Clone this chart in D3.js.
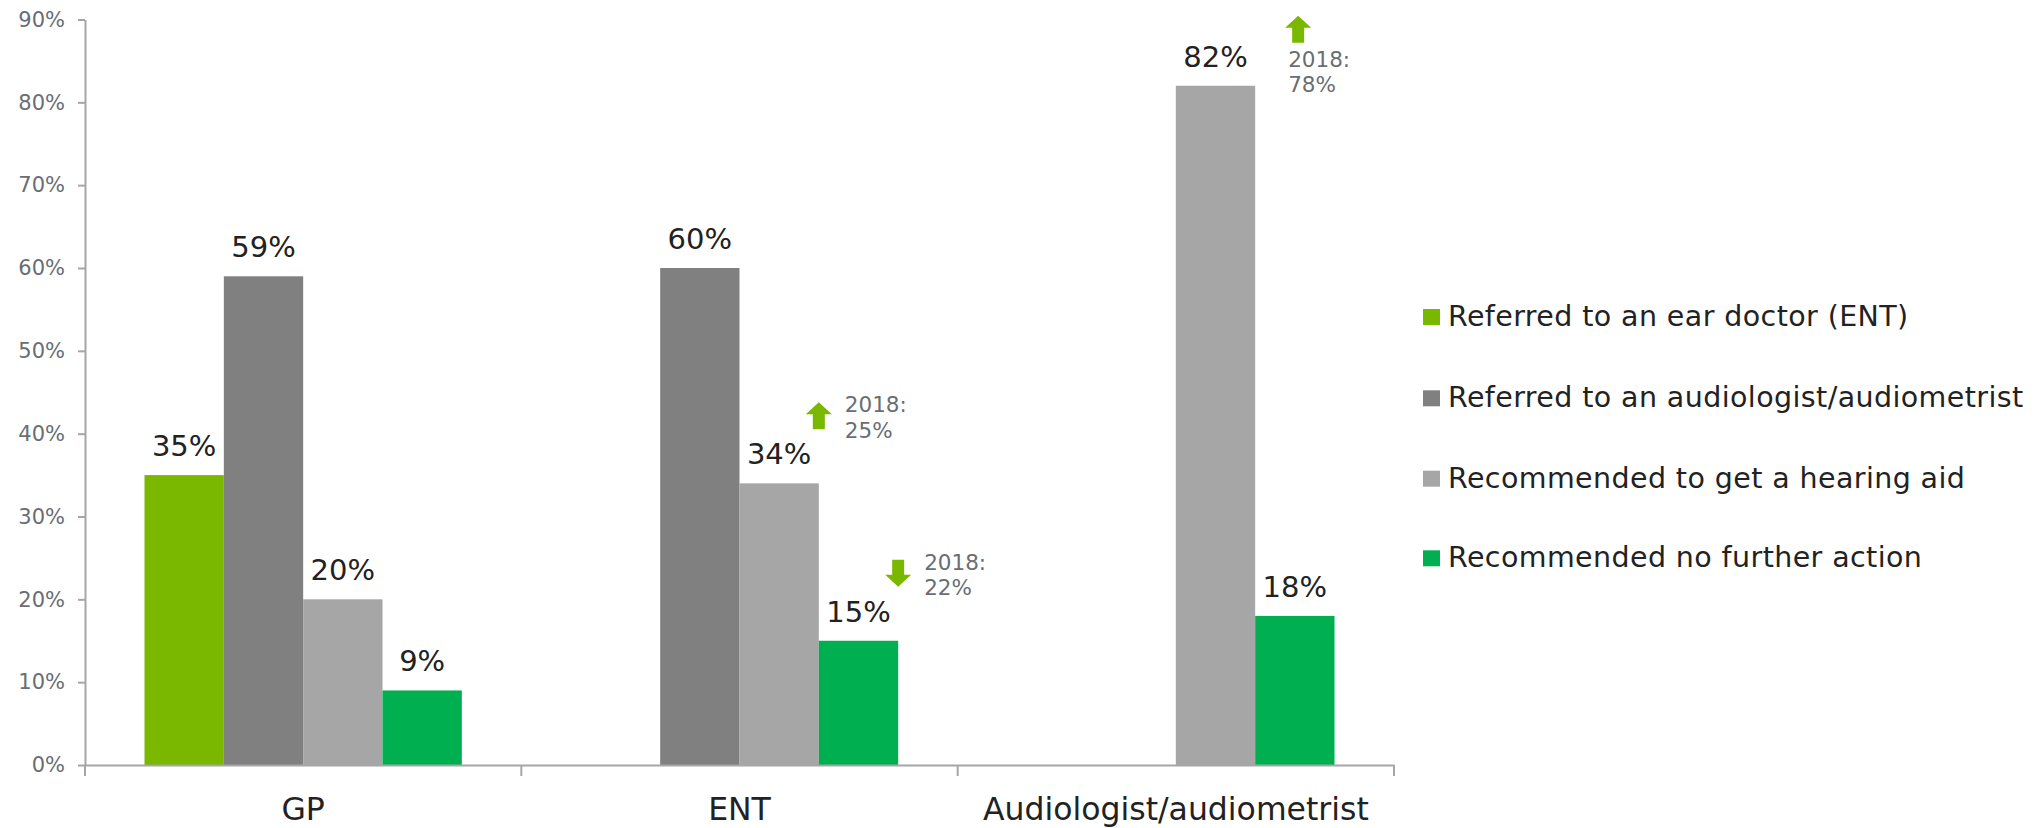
<!DOCTYPE html>
<html>
<head>
<meta charset="utf-8">
<script src="https://cdn.jsdelivr.net/npm/d3@7"></script>
<style>
  body { margin: 0; background: #fff; }
  svg { display: block; font-family: "DejaVu Sans", Verdana, sans-serif; }
</style>
</head>
<body>
<div id="chart"></div>
<script>
// DATA
const categories = ['GP', 'ENT', 'Audiologist/audiometrist'];
const seriesNames = [
  'Referred to an ear doctor (ENT)',
  'Referred to an audiologist/audiometrist',
  'Recommended to get a hearing aid',
  'Recommended no further action'
];
const seriesColors = ['#7ab800', '#808080', '#a6a6a6', '#00b050'];
// one array per series, values for GP, ENT, Audiologist (null = no bar)
const entReferral = [0.35, null, null];
const audiologistReferral = [0.59, 0.60, null];
const hearingAid = [0.20, 0.34, 0.82];
const noAction = [0.09, 0.15, 0.18];
const yTicks = [0, 0.1, 0.2, 0.3, 0.4, 0.5, 0.6, 0.7, 0.8, 0.9];

// 2018 comparison notes
const noteCategory = ['ENT', 'ENT', 'Audiologist/audiometrist'];
const noteSeries = [2, 3, 2];
const noteText = ['2018: 25%', '2018: 22%', '2018: 78%'];
const noteDir = ['up', 'down', 'up'];
const noteStyle = ['side', 'side', 'stacked'];

const allSeries = [entReferral, audiologistReferral, hearingAid, noAction];

const width = 2041;
const height = 828;
const margin = { top: 19.5, left: 85, bottom: 63 };
const plotRight = 1394;
const fontFam = '"DejaVu Sans", Verdana, sans-serif';

const svg = d3.select('#chart').append('svg')
  .attr('width', width)
  .attr('height', height);

const x0 = d3.scaleBand().domain(categories).range([margin.left, plotRight]).padding(0);
const x1 = d3.scaleBand().domain(d3.range(seriesNames.length))
  .range([0, x0.bandwidth()]).paddingInner(0).paddingOuter(0.75);
const y = d3.scaleLinear().domain([0, 0.9]).range([height - margin.bottom, margin.top]);

const axisColor = '#a6a6a6';
const tickTextColor = '#686e73';

// Y axis
const yAxis = svg.append('g')
  .attr('transform', `translate(${margin.left},0)`)
  .call(d3.axisLeft(y).tickValues(yTicks).tickFormat(d3.format('.0%'))
    .tickSizeInner(7).tickSizeOuter(0).tickPadding(13));
yAxis.select('.domain').attr('stroke', axisColor).attr('stroke-width', 2);
yAxis.selectAll('.tick line').attr('stroke', axisColor).attr('stroke-width', 2);
yAxis.selectAll('.tick text').attr('fill', tickTextColor)
  .style('font-size', '21px').style('font-family', fontFam);

// bars
const rows = [];
allSeries.forEach((vals, s) => {
  vals.forEach((v, c) => {
    if (v !== null) rows.push({ cat: categories[c], s, v });
  });
});

svg.append('g').selectAll('rect')
  .data(rows)
  .join('rect')
  .attr('x', (d) => x0(d.cat) + x1(d.s))
  .attr('y', (d) => y(d.v))
  .attr('width', x1.bandwidth())
  .attr('height', (d) => y(0) - y(d.v))
  .attr('fill', (d) => seriesColors[d.s]);

// value labels
svg.append('g').selectAll('text')
  .data(rows)
  .join('text')
  .attr('x', (d) => x0(d.cat) + x1(d.s) + x1.bandwidth() / 2)
  .attr('y', (d) => y(d.v) - 19)
  .attr('text-anchor', 'middle')
  .attr('fill', '#222')
  .style('font-size', '29px')
  .text((d) => d3.format('.0%')(d.v));

// X axis
const xAxisY = y(0);
const xAxis = svg.append('g')
  .attr('transform', `translate(0,${xAxisY})`)
  .call(d3.axisBottom(x0).tickSize(0).tickPadding(33));
xAxis.select('.domain').attr('stroke', axisColor).attr('stroke-width', 2);
xAxis.selectAll('.tick text').attr('fill', '#222')
  .style('font-size', '31.5px').style('font-family', fontFam);

// category boundary ticks
const bounds = categories.map((c) => x0(c)).concat([plotRight]);
svg.append('g').selectAll('line')
  .data(bounds)
  .join('line')
  .attr('x1', (d) => d).attr('x2', (d) => d)
  .attr('y1', xAxisY).attr('y2', xAxisY + 11)
  .attr('stroke', axisColor).attr('stroke-width', 2);

// 2018 notes
const arrowColor = '#7ab800';
function arrowPath(cx, top, dir) {
  // 26 wide, 27 tall; head 12 tall, shaft 12 wide
  const w = 13, sh = 6, head = 12, h = 27;
  if (dir === 'up') {
    return `M${cx},${top} L${cx + w},${top + head} L${cx + sh},${top + head} L${cx + sh},${top + h} ` +
      `L${cx - sh},${top + h} L${cx - sh},${top + head} L${cx - w},${top + head} Z`;
  }
  return `M${cx - sh},${top} L${cx + sh},${top} L${cx + sh},${top + h - head} L${cx + w},${top + h - head} ` +
    `L${cx},${top + h} L${cx - w},${top + h - head} L${cx - sh},${top + h - head} Z`;
}

const notes = noteText.map((t, i) => {
  const c = categories.indexOf(noteCategory[i]);
  const s = noteSeries[i];
  return { t, dir: noteDir[i], style: noteStyle[i], cat: noteCategory[i], s, v: allSeries[s][c] };
});

const noteG = svg.append('g');
notes.forEach((n) => {
  const barRight = x0(n.cat) + x1(n.s) + x1.bandwidth();
  const top = y(n.v);
  const parts = n.t.split(' ');
  let ax, ay, tx, ty;
  if (n.style === 'side') {
    ax = barRight; ay = top - 81;
    tx = barRight + 26; ty = top - 71;
  } else {
    ax = barRight + 43; ay = top - 70;
    tx = barRight + 33; ty = top - 19;
  }
  noteG.append('path').attr('d', arrowPath(ax, ay, n.dir)).attr('fill', arrowColor);
  const txt = noteG.append('text')
    .attr('x', tx).attr('y', ty)
    .attr('fill', tickTextColor)
    .style('font-size', '21.5px');
  parts.forEach((p, k) => {
    txt.append('tspan').attr('x', tx).attr('dy', k === 0 ? 0 : 25.5).text(p);
  });
});

// legend
const legendX = 1423;
const legendY = [326, 407.3, 487.7, 567.3];
const legend = svg.append('g');
const items = legend.selectAll('g')
  .data(seriesNames)
  .join('g')
  .attr('transform', (d, i) => `translate(${legendX},${legendY[i]})`);
items.append('rect')
  .attr('x', 0).attr('y', -17)
  .attr('width', 17).attr('height', 16)
  .attr('fill', (d, i) => seriesColors[i]);
items.append('text')
  .attr('x', 25).attr('y', 0)
  .attr('fill', '#222')
  .style('font-size', '28.5px')
  .style('letter-spacing', '0.4px')
  .text((d) => d);
</script>
</body>
</html>
